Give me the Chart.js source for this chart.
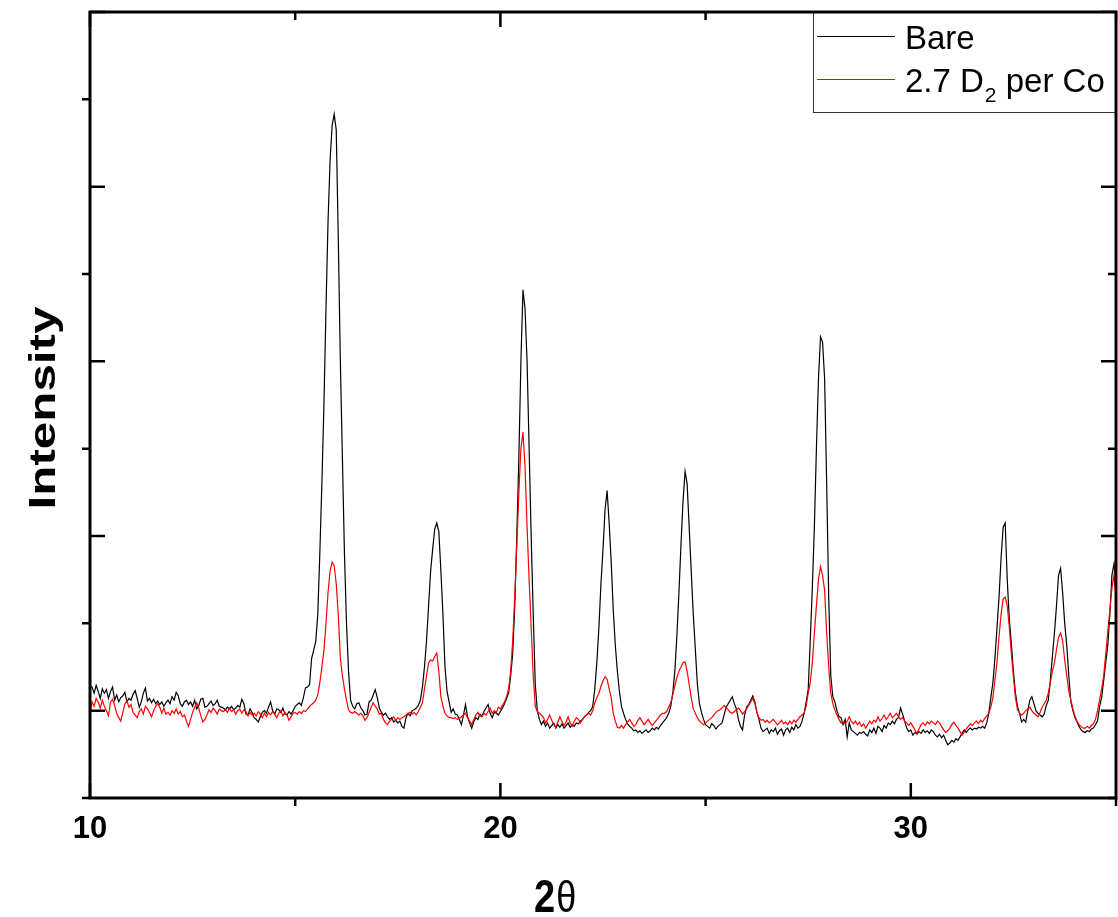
<!DOCTYPE html>
<html>
<head>
<meta charset="utf-8">
<title>XRD - Bare vs 2.7 D2 per Co</title>
<script src="https://cdn.jsdelivr.net/npm/chart.js@4.4.1/dist/chart.umd.min.js"></script>
<style>
  body { margin: 0; background: #fff; }
  #xrdChart { display: block; }
</style>
</head>
<body>
<canvas id="xrdChart" width="1118" height="917"></canvas>
<script>
// scan: 10 to 35 deg 2theta, 0.05 deg step
const startAngle = 10;
const stepAngle = 0.05;

const seriesLabels = ['Bare', '2.7 D\u2082 per Co'];
const xTickLabels = [10, 20, 30];

// one row per degree (20 points each)
const bare = [
  1.29,1.27,1.20,1.29,1.22,1.14,1.25,1.20,1.24,1.14,1.22,1.27,1.12,1.18,1.10,1.15,1.17,1.21,1.10,1.14,
  1.12,1.19,1.23,1.14,1.04,1.10,1.20,1.26,1.11,1.14,1.09,1.13,1.08,1.11,1.07,1.10,1.05,1.09,1.12,1.08,
  1.16,1.12,1.21,1.17,1.08,1.05,1.10,1.12,1.07,1.10,1.05,1.12,1.02,1.06,1.13,1.14,1.04,1.05,1.08,1.11,
  1.06,1.08,1.12,1.05,1.04,1.03,1.01,1.04,1.02,1.05,1.01,1.03,1.06,1.04,1.13,1.08,0.96,0.95,1.02,0.98,
  0.92,0.90,0.87,0.93,0.98,1.00,0.97,1.04,1.10,1.00,0.96,1.02,1.01,0.98,1.03,0.96,0.95,0.99,0.96,1.00,
  1.05,1.07,1.09,1.06,1.15,1.26,1.27,1.30,1.60,1.69,1.79,2.10,2.80,3.60,4.50,5.60,6.60,7.30,7.70,7.83,
  7.65,6.40,5.00,3.90,2.80,2.00,1.45,1.12,1.05,1.02,1.08,1.09,1.03,1.00,0.95,0.96,1.10,1.12,1.18,1.24,
  1.15,1.03,0.98,0.95,0.97,0.93,0.90,0.92,0.87,0.89,0.86,0.88,0.82,0.80,0.92,0.97,0.94,1.00,1.01,1.03,
  1.06,1.12,1.27,1.50,1.80,2.20,2.60,2.85,3.08,3.15,3.05,2.60,2.10,1.50,1.22,1.10,0.98,1.02,0.96,0.95,
  0.90,0.84,0.95,1.07,0.93,0.86,0.80,0.87,0.92,0.90,0.96,0.94,0.99,1.03,1.07,0.97,0.92,0.98,0.97,0.95,
  0.99,1.03,1.08,1.14,1.20,1.40,1.65,2.20,3.00,3.90,5.00,5.82,5.60,5.00,4.00,3.00,2.10,1.30,1.00,0.90,
  0.84,0.88,0.82,0.86,0.80,0.83,0.86,0.80,0.84,0.81,0.85,0.80,0.83,0.86,0.81,0.84,0.82,0.86,0.85,0.88,
  0.90,0.93,0.95,0.98,1.00,1.05,1.25,1.55,1.95,2.45,2.85,3.30,3.52,3.15,2.70,2.15,1.75,1.45,1.22,1.05,
  0.97,0.90,0.85,0.82,0.80,0.77,0.78,0.75,0.77,0.74,0.76,0.78,0.75,0.77,0.80,0.78,0.81,0.79,0.83,0.86,
  0.89,0.92,0.97,1.05,1.20,1.45,1.85,2.35,2.90,3.40,3.74,3.60,3.10,2.60,2.10,1.70,1.30,1.08,0.98,0.90,
  0.84,0.82,0.80,0.85,0.83,0.79,0.82,0.84,0.86,0.95,1.04,1.08,1.12,1.16,1.08,1.02,0.90,0.82,0.78,0.95,
  1.04,1.07,1.12,1.17,1.10,0.98,0.90,0.80,0.76,0.78,0.80,0.74,0.78,0.76,0.80,0.73,0.77,0.79,0.72,0.78,
  0.80,0.75,0.81,0.78,0.84,0.80,0.82,0.88,0.97,1.10,1.24,1.80,2.40,3.10,4.00,4.80,5.28,5.22,4.80,3.60,
  2.30,1.40,1.16,1.10,1.00,0.93,0.92,0.84,0.90,0.70,0.86,0.78,0.76,0.74,0.72,0.75,0.74,0.76,0.73,0.71,
  0.78,0.75,0.80,0.74,0.82,0.80,0.76,0.83,0.80,0.86,0.84,0.88,0.85,0.90,0.92,1.03,0.96,0.88,0.80,0.76,
  0.78,0.72,0.75,0.73,0.76,0.74,0.78,0.75,0.77,0.74,0.78,0.76,0.72,0.70,0.73,0.69,0.72,0.66,0.61,0.63,
  0.66,0.64,0.68,0.66,0.70,0.74,0.78,0.75,0.78,0.80,0.78,0.80,0.79,0.81,0.80,0.82,0.80,0.86,0.97,1.15,
  1.32,1.60,1.95,2.30,2.75,3.10,3.15,2.50,2.05,1.77,1.45,1.20,1.05,0.97,0.87,0.90,0.87,1.00,1.12,1.16,
  1.08,1.00,0.97,0.95,0.93,0.96,1.06,1.12,1.35,1.62,1.89,2.20,2.55,2.63,2.35,2.00,1.75,1.40,1.10,1.00,
  0.92,0.87,0.82,0.78,0.76,0.75,0.77,0.76,0.79,0.80,0.84,0.88,1.05,1.15,1.35,1.55,1.75,2.10,2.55,2.68,
  2.45
];

const deuterated = [
  0.98,1.10,1.05,1.14,1.10,1.03,1.12,1.05,1.00,0.94,1.10,1.13,1.06,0.97,0.92,0.88,0.98,1.08,1.11,1.04,
  1.07,0.98,0.95,0.92,0.99,1.02,0.96,1.05,1.02,0.98,0.93,1.00,1.05,1.08,1.04,0.97,1.03,0.96,0.98,0.95,
  1.00,0.97,1.02,0.96,0.99,0.93,0.95,0.88,0.82,0.90,0.98,1.04,1.09,1.03,0.94,0.87,0.90,0.95,1.01,0.98,
  1.03,1.00,0.96,1.02,1.00,0.99,1.01,0.98,1.03,0.99,1.01,0.96,1.00,1.02,0.97,1.01,0.99,0.94,0.98,0.95,
  0.97,0.94,0.99,0.96,0.92,0.97,0.93,0.98,0.95,0.99,0.96,0.92,0.97,1.00,0.94,0.98,0.95,0.89,0.93,0.97,
  0.98,0.96,0.99,0.97,1.00,0.99,1.02,1.05,1.07,1.09,1.12,1.18,1.32,1.50,1.69,2.00,2.35,2.60,2.70,2.66,
  2.45,2.10,1.60,1.40,1.25,1.12,1.01,0.98,0.97,0.99,0.97,0.95,0.97,0.94,0.89,0.92,0.98,1.04,1.09,1.05,
  1.02,0.96,0.97,0.90,0.86,0.84,0.88,0.90,0.93,0.89,0.92,0.90,0.92,0.93,0.95,0.97,0.98,0.96,0.98,0.95,
  0.99,1.04,1.09,1.25,1.40,1.55,1.58,1.57,1.62,1.66,1.45,1.16,1.05,0.97,0.94,0.92,0.92,0.91,0.92,0.90,
  0.91,0.93,0.95,0.97,0.92,0.88,0.84,0.90,0.95,0.98,0.94,0.93,0.97,0.95,0.99,1.03,0.97,1.00,0.98,1.04,
  1.02,1.06,1.10,1.16,1.25,1.45,1.80,2.30,2.90,3.50,4.00,4.19,3.80,3.10,2.50,1.95,1.40,1.05,0.99,0.97,
  0.95,0.92,0.86,0.90,0.95,0.89,0.84,0.81,0.87,0.93,0.88,0.83,0.87,0.93,0.86,0.82,0.88,0.92,0.90,0.86,
  0.90,0.93,0.95,0.97,0.95,1.00,1.09,1.15,1.20,1.28,1.34,1.39,1.36,1.25,1.15,0.97,0.88,0.81,0.80,0.83,
  0.80,0.84,0.87,0.90,0.86,0.82,0.84,0.89,0.92,0.88,0.84,0.87,0.90,0.86,0.83,0.86,0.89,0.92,0.95,0.97,
  0.97,0.99,1.04,1.09,1.18,1.28,1.38,1.45,1.50,1.55,1.56,1.45,1.30,1.15,1.02,0.97,0.92,0.88,0.86,0.84,
  0.86,0.88,0.90,0.92,0.95,0.98,1.00,1.01,1.03,1.06,1.04,1.01,0.98,0.97,0.99,1.01,1.03,1.00,0.96,0.99,
  1.02,1.06,1.10,1.14,1.08,0.98,0.92,0.89,0.90,0.87,0.89,0.86,0.88,0.90,0.87,0.84,0.86,0.89,0.85,0.87,
  0.84,0.88,0.85,0.89,0.87,0.90,0.93,0.95,0.97,1.05,1.20,1.32,1.55,1.89,2.20,2.50,2.65,2.55,2.38,1.89,
  1.50,1.20,1.08,1.01,0.95,0.90,0.86,0.87,0.85,0.88,0.93,0.88,0.85,0.88,0.84,0.87,0.82,0.85,0.80,0.84,
  0.88,0.85,0.89,0.87,0.93,0.88,0.91,0.95,0.90,0.93,0.97,0.92,0.94,0.97,0.93,0.90,0.92,0.88,0.86,0.83,
  0.86,0.82,0.78,0.74,0.79,0.84,0.86,0.83,0.87,0.85,0.88,0.86,0.84,0.88,0.86,0.82,0.78,0.75,0.77,0.80,
  0.84,0.87,0.83,0.80,0.76,0.72,0.75,0.79,0.82,0.85,0.83,0.86,0.88,0.85,0.89,0.87,0.91,0.94,0.97,1.04,
  1.15,1.35,1.55,1.85,2.10,2.28,2.30,2.20,1.96,1.65,1.39,1.15,1.01,0.97,0.95,0.97,1.00,1.02,1.04,1.00,
  0.97,0.95,0.93,0.98,1.04,1.08,1.12,1.20,1.32,1.45,1.55,1.70,1.84,1.89,1.80,1.58,1.40,1.22,1.12,1.02,
  0.94,0.88,0.84,0.82,0.80,0.80,0.82,0.80,0.83,0.85,0.90,1.00,1.12,1.25,1.40,1.65,1.90,2.15,2.40,2.55,
  2.30
];

const twoTheta = bare.map((v, i) => +(startAngle + i * stepAngle).toFixed(2));

function toPoints(values) {
  return values.map((v, i) => ({ x: twoTheta[i], y: v }));
}

const fontFamily = '"Liberation Sans", Arial, Helvetica, sans-serif';
Chart.defaults.font.family = fontFamily;
Chart.defaults.color = '#000';

// tick marks, legend box and frame, drawn on top of the lines
const framePlugin = {
  id: 'frame',
  afterDatasetsDraw(chart) {
    const ctx = chart.ctx;
    const a = chart.chartArea;
    const xs = chart.scales.x;
    const ys = chart.scales.y;
    ctx.save();
    ctx.strokeStyle = '#000';
    ctx.lineWidth = 2.5;
    ctx.beginPath();
    xs.ticks.forEach(t => {
      const px = xs.getPixelForValue(t.value);
      const major = t.value % 10 === 0;
      if (major) {
        ctx.moveTo(px, a.bottom); ctx.lineTo(px, a.bottom - 15);
        ctx.moveTo(px, a.top); ctx.lineTo(px, a.top + 15);
      } else {
        ctx.moveTo(px, a.bottom); ctx.lineTo(px, a.bottom + 8);
        ctx.moveTo(px, a.top); ctx.lineTo(px, a.top + 8);
      }
    });
    ys.ticks.forEach(t => {
      const py = ys.getPixelForValue(t.value);
      const major = t.value % 2 === 1;
      if (major) {
        ctx.moveTo(a.left, py); ctx.lineTo(a.left + 15, py);
        ctx.moveTo(a.right, py); ctx.lineTo(a.right - 15, py);
      } else {
        ctx.moveTo(a.left - 8, py); ctx.lineTo(a.left, py);
        ctx.moveTo(a.right, py); ctx.lineTo(a.right - 8, py);
      }
    });
    ctx.stroke();

    // legend
    const box = { left: 813, top: a.top, right: a.right, bottom: 112 };
    ctx.fillStyle = '#fff';
    ctx.fillRect(box.left, box.top, box.right - box.left, box.bottom - box.top);
    ctx.lineWidth = 1;
    ctx.strokeStyle = '#333';
    ctx.strokeRect(box.left + 0.5, box.top + 0.5, box.right - box.left, box.bottom - box.top);

    const rows = [36, 79];
    chart.data.datasets.forEach(ds => {
      const ly = rows[ds.legendRow];
      ctx.strokeStyle = ds.borderColor;
      ctx.lineWidth = 1;
      ctx.beginPath();
      ctx.moveTo(817, ly + 0.5);
      ctx.lineTo(895, ly + 0.5);
      ctx.stroke();
      ctx.fillStyle = '#000';
      ctx.textBaseline = 'alphabetic';
      ctx.textAlign = 'left';
      const parts = ds.label.split('\u2082');
      let tx = 905;
      ctx.font = '33px ' + fontFamily;
      ctx.fillText(parts[0], tx, ly + 13);
      tx += ctx.measureText(parts[0]).width;
      if (parts.length > 1) {
        ctx.font = '21px ' + fontFamily;
        ctx.fillText('2', tx + 1, ly + 23);
        tx += ctx.measureText('2').width + 1;
        ctx.font = '33px ' + fontFamily;
        ctx.fillText(parts[1], tx, ly + 13);
      }
    });

    // frame
    ctx.strokeStyle = '#000';
    ctx.lineWidth = 3;
    ctx.strokeRect(a.left, a.top, a.right - a.left, a.bottom - a.top);
    ctx.restore();
  },
  afterDraw(chart) {
    const ctx = chart.ctx;
    ctx.save();
    ctx.fillStyle = '#000';
    ctx.textAlign = 'left';
    ctx.textBaseline = 'alphabetic';
    // x title 2θ
    ctx.translate(534, 912);
    ctx.scale(1, 1.22);
    ctx.font = 'bold 38px ' + fontFamily;
    ctx.fillText('2', 0, 0);
    const w = ctx.measureText('2').width;
    ctx.font = '36px ' + fontFamily;
    ctx.fillText('\u03b8', w + 1, 0);
    ctx.restore();

    ctx.save();
    ctx.fillStyle = '#000';
    ctx.translate(55, 408);
    ctx.rotate(-Math.PI / 2);
    ctx.scale(1.37, 1);
    ctx.textAlign = 'center';
    ctx.textBaseline = 'alphabetic';
    ctx.font = 'bold 36px ' + fontFamily;
    ctx.fillText('Intensity', 0, 0);
    ctx.restore();
  }
};

new Chart(document.getElementById('xrdChart'), {
  type: 'line',
  data: {
    datasets: [
      {
        label: seriesLabels[1],
        data: toPoints(deuterated),
        borderColor: '#ff0000',
        borderWidth: 1.2,
        pointRadius: 0,
        tension: 0,
        order: 0,
        legendRow: 1
      },
      {
        label: seriesLabels[0],
        data: toPoints(bare),
        borderColor: '#000000',
        borderWidth: 1.2,
        pointRadius: 0,
        tension: 0,
        order: 1,
        legendRow: 0
      }
    ]
  },
  options: {
    responsive: false,
    animation: false,
    devicePixelRatio: 1,
    layout: { padding: { top: 12, right: 2, left: 0, bottom: 0 } },
    plugins: {
      legend: { display: false },
      tooltip: { enabled: false }
    },
    scales: {
      x: {
        type: 'linear',
        min: 10,
        max: 35,
        grid: { display: false, drawTicks: false },
        border: { display: false },
        ticks: {
          stepSize: 5,
          autoSkip: false,
          maxRotation: 0,
          padding: 13,
          font: { size: 31, weight: 'bold' },
          callback: v => xTickLabels.includes(v) ? String(v) : ''
        },
        afterFit: s => {
          s.height = 119;
          s.paddingLeft = 0;
          s.paddingRight = 0;
        }
      },
      y: {
        min: 0,
        max: 9,
        grid: { display: false, drawTicks: false },
        border: { display: false },
        ticks: { stepSize: 1, display: false },
        afterFit: s => { s.width = 90; }
      }
    }
  },
  plugins: [framePlugin]
});
</script>
</body>
</html>
